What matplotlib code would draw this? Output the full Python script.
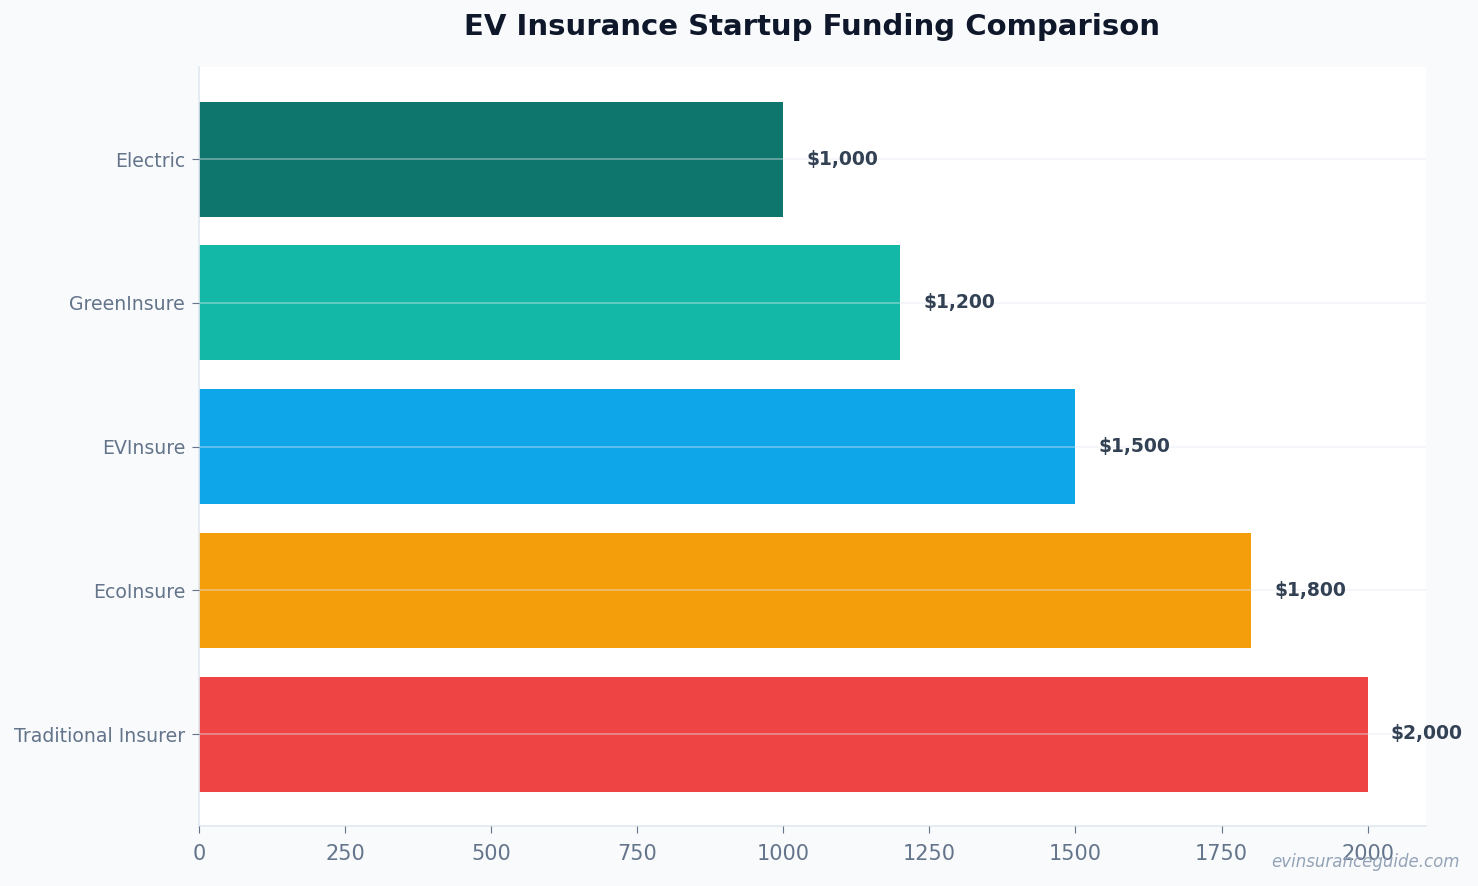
import matplotlib.pyplot as plt

# bottom to top
companies = ['Traditional Insurer', 'EcoInsure', 'EVInsure', 'GreenInsure', 'Electric']
funding = [2000, 1800, 1500, 1200, 1000]
colors = ['#ef4444', '#f59e0b', '#0ea5e9', '#14b8a6', '#0f766e']

fig = plt.figure(figsize=(14.78, 8.86), dpi=100, facecolor='#f8fafc')
ax = fig.add_axes([199 / 1478, 1 - 826 / 886, (1426 - 199) / 1478, (826 - 67) / 886])
ax.set_facecolor('white')

ax.barh(companies, funding, height=0.8, color=colors)
ax.set_xlim(0, max(funding) * 1.05)

for i, v in enumerate(funding):
    ax.text(v + max(funding) * 0.02, i, f'${v:,.0f}', va='center', ha='left',
            fontsize=13.5, fontweight='bold', color='#334155')

ax.set_axisbelow(False)
ax.grid(axis='y', color='#e2e8f0', alpha=0.45, linewidth=1.2)
ax.grid(axis='x', visible=False)

for s in ['top', 'right']:
    ax.spines[s].set_visible(False)
for s in ['left', 'bottom']:
    ax.spines[s].set_color('#e2e8f0')
    ax.spines[s].set_linewidth(1.2)

ax.tick_params(axis='y', labelsize=13.6, colors='#64748b', length=5, pad=5)
ax.tick_params(axis='x', labelsize=15, colors='#64748b', length=5, pad=8)

fig.text(812.5 / 1478, 1 - 27 / 886, 'EV Insurance Startup Funding Comparison', fontsize=21,
         fontweight='bold', color='#0f172a', ha='center', va='center')
fig.text(1460 / 1478, 1 - 862 / 886, 'evinsuranceguide.com', ha='right', va='center',
         fontsize=12, style='italic', color='#94a3b8')

plt.savefig('out.png', facecolor=fig.get_facecolor())
